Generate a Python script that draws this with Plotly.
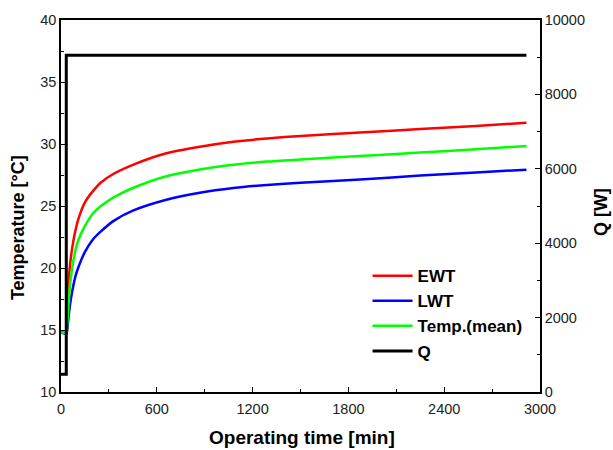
import plotly.graph_objects as go

# Data
time_min = [0, 34, 38, 46, 56, 70, 90, 110, 150, 200, 250, 330, 450, 660, 870,
            1080, 1290, 1500, 1900, 2250, 2600, 2915]
ewt = [14.8, 14.8, 16.0, 18.6, 20.2, 21.6, 23.0, 24.0, 25.3, 26.2, 26.9, 27.6, 28.32,
       29.25, 29.78, 30.18, 30.45, 30.65, 30.95, 31.2, 31.45, 31.72]
temp_mean = [14.8, 14.8, 15.3, 16.8, 18.6, 20.0, 21.4, 22.3, 23.4, 24.4, 25.0, 25.7, 26.45,
             27.4, 27.95, 28.33, 28.58, 28.75, 29.05, 29.31, 29.58, 29.84]
lwt = [14.8, 14.7, 14.9, 15.9, 17.0, 18.1, 19.3, 20.1, 21.3, 22.3, 22.95, 23.8, 24.62,
       25.5, 26.07, 26.45, 26.7, 26.88, 27.15, 27.45, 27.7, 27.93]
q_time = [0, 33, 33, 2915]
q_watt = [480, 480, 9050, 9050]

font_family = "Liberation Sans, Arial, sans-serif"

fig = go.Figure()
fig.add_trace(go.Scatter(x=time_min, y=ewt, name="<b>EWT</b>", mode="lines",
                         line=dict(color="#ff0000", width=2.5, shape="spline", smoothing=0.7)))
fig.add_trace(go.Scatter(x=time_min, y=lwt, name="<b>LWT</b>", mode="lines",
                         line=dict(color="#0000ff", width=2.5, shape="spline", smoothing=0.7)))
fig.add_trace(go.Scatter(x=time_min, y=temp_mean, name="<b>Temp.(mean)</b>", mode="lines",
                         line=dict(color="#00ff00", width=2.5, shape="spline", smoothing=0.7)))
fig.add_trace(go.Scatter(x=q_time, y=q_watt, name="<b>Q</b>", mode="lines", yaxis="y2",
                         line=dict(color="#000000", width=3)))

axis_common = dict(showline=True, linecolor="black", linewidth=1.5, ticks="inside",
                   ticklen=5, tickcolor="black", showgrid=False, zeroline=False,
                   tickfont=dict(family=font_family, size=14.5, color="#222"))

title_font = dict(family=font_family, size=19, color="black")

fig.update_layout(
    width=613, height=450,
    margin=dict(l=61, r=73, t=15, b=58),
    paper_bgcolor="white", plot_bgcolor="white",
    font=dict(family=font_family, color="black"),
    showlegend=True,
    legend=dict(x=0.64, y=0.36, xanchor="left", yanchor="top",
                bgcolor="rgba(0,0,0,0)", font=dict(family=font_family, size=17, color="black"),
                tracegroupgap=0, itemwidth=40),
    xaxis=dict(range=[0, 3000], tickvals=[0, 600, 1200, 1800, 2400, 3000], mirror=True,
               ticklabelstandoff=3,
               minor=dict(dtick=300, ticks="inside", ticklen=3, tickcolor="black"),
               **axis_common),
    yaxis=dict(range=[10, 40], dtick=5, mirror=True,
               minor=dict(dtick=2.5, ticks="inside", ticklen=3, tickcolor="black"),
               **axis_common),
    yaxis2=dict(range=[0, 10000], dtick=2000, overlaying="y", side="right", tickformat="d",
                minor=dict(dtick=1000, ticks="inside", ticklen=3, tickcolor="black"),
                **axis_common),
    annotations=[
        dict(text="<b>Operating time [min]</b>", xref="paper", yref="paper",
             x=0.503, y=-0.122, xanchor="center", yanchor="middle", showarrow=False,
             font=title_font),
        dict(text="<b>Temperature [°C]</b>", xref="paper", yref="paper",
             x=-0.09, y=0.443, xanchor="center", yanchor="middle", showarrow=False,
             textangle=-90, font=dict(family=font_family, size=18, color="black")),
        dict(text="<b>Q [W]</b>", xref="paper", yref="paper",
             x=1.129, y=0.483, xanchor="center", yanchor="middle", showarrow=False,
             textangle=-90, font=dict(family=font_family, size=18, color="black")),
    ],
)

fig.write_html("out.html")
